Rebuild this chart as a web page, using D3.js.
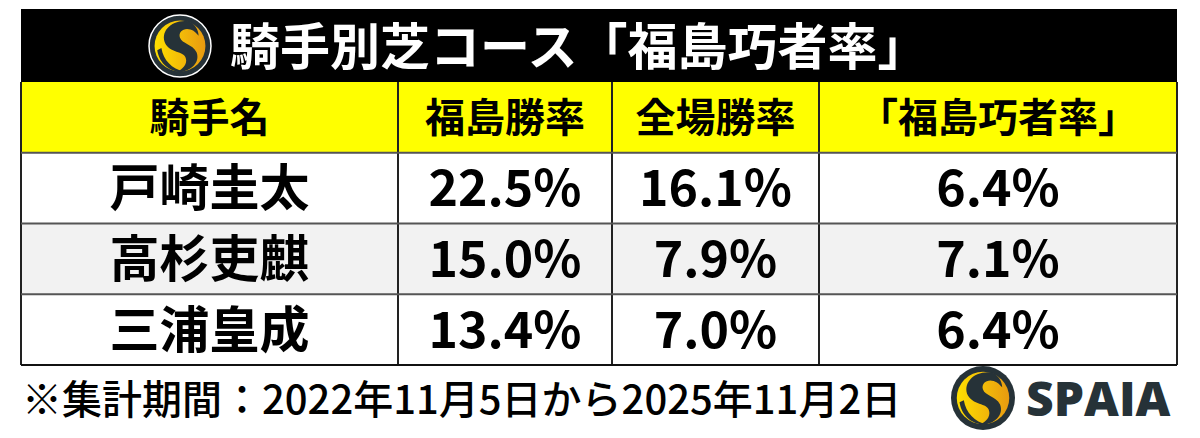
<!DOCTYPE html>
<html><head><meta charset="utf-8">
<script src="https://cdn.jsdelivr.net/npm/d3@7"></script>
<style>body{margin:0;background:#fff}svg{display:block}</style>
</head><body>
<svg id="c" width="1200" height="438"></svg>
<script>
var title = "騎手別芝コース「福島巧者率」";
var headers = ["騎手名", "福島勝率", "全場勝率", "「福島巧者率」"];
var jockeys = ["戸崎圭太", "高杉吏麒", "三浦皇成"];
var fukushimaRate = ["22.5%", "15.0%", "13.4%"];
var allRate = ["16.1%", "7.9%", "7.0%"];
var skillRate = ["6.4%", "7.1%", "6.4%"];
var footnote = "※集計期間：2022年11月5日から2025年11月2日";

var svg = d3.select("#c");
var font = "'Noto Sans CJK JP', 'Noto Sans', sans-serif";
var colEdges = [21, 398, 612, 819, 1177];
var rowY = d3.scaleBand().domain([0,1,2,3]).range([82, 365]);

var defs = svg.append("defs");
var g = defs.append("linearGradient").attr("id","gold").attr("x1","0").attr("x2","1");
g.append("stop").attr("offset","0").attr("stop-color","#ffe000");
g.append("stop").attr("offset","1").attr("stop-color","#e89a10");

function logo(cx, cy, r, ring) {
  var l = svg.append("g").attr("transform","translate("+cx+","+cy+")");
  l.append("circle").attr("r", r).attr("fill","#263238").attr("stroke", ring ? "#fff" : "none").attr("stroke-width",1.5);
  l.append("circle").attr("r", r*0.82).attr("fill","url(#gold)");
  var s = r/30;
  l.append("path").attr("transform","scale("+s+")")
    .attr("d","M8,-24 C-8,-26 -20,-14 -14,-2 C-8,8 6,4 6,14 C6,20 0,24 -4,25 C10,26 20,16 16,6 C12,-2 2,-2 0,-8 C-2,-14 4,-18 10,-16 C14,-15 16,-12 18,-10 C18,-16 14,-22 8,-24 Z")
    .attr("fill","#263238");
  l.append("path").attr("transform","scale("+s+")")
    .attr("d","M-22,4 C-20,18 -8,26 4,25 C-8,22 -16,14 -18,2 Z").attr("fill","#263238");
  return l;
}

// title bar
svg.append("rect").attr("x",21).attr("y",9).attr("width",1156).attr("height",73).attr("fill","#000");
logo(180, 46, 31, true);
svg.append("text").attr("x",230).attr("y",65).attr("fill","#fff")
  .attr("font-family",font).attr("font-weight","bold").attr("font-size",50).text(title);

// rows
var rows = [headers].concat(jockeys.map(function(j,i){ return [j, fukushimaRate[i], allRate[i], skillRate[i]]; }));
rows.forEach(function(r, ri){
  var y = rowY(ri), h = rowY.bandwidth();
  svg.append("rect").attr("x",21).attr("y",y).attr("width",1156).attr("height",h)
    .attr("fill", ri===0 ? "#ffff00" : (ri===2 ? "#f2f2f2" : "#fff"));
  r.forEach(function(t, ci){
    var x0 = colEdges[ci], x1 = colEdges[ci+1];
    svg.append("text").attr("x",(x0+x1)/2).attr("y", y+h/2).attr("dy","0.36em")
      .attr("text-anchor","middle").attr("font-family",font).attr("font-weight","bold")
      .attr("font-size", ri===0 ? 40 : 50).attr("fill","#000").text(t);
  });
});
// grid lines
colEdges.forEach(function(cx){
  svg.append("line").attr("x1",cx).attr("x2",cx).attr("y1",82).attr("y2",365).attr("stroke","#222").attr("stroke-width",2);
});
[0,1,2,3].forEach(function(i){
  svg.append("line").attr("x1",21).attr("x2",1177).attr("y1",rowY(i)+rowY.bandwidth()).attr("y2",rowY(i)+rowY.bandwidth())
    .attr("stroke", i===3 ? "#111" : "#555").attr("stroke-width",2);
});

// footer
svg.append("text").attr("x",22).attr("y",414).attr("font-family",font).attr("font-weight","500")
  .attr("font-size",40).attr("fill","#000").text(footnote);
logo(983, 398, 32, false);
svg.append("text").attr("x",1026).attr("y",416).attr("font-family","'Open Sans', sans-serif").attr("font-weight","800")
  .attr("font-size",48).attr("fill","#263238").text("SPAIA");
</script>
</body></html>
